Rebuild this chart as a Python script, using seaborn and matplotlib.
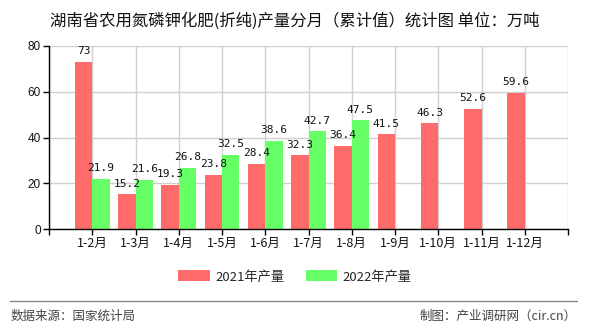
import matplotlib
matplotlib.use("Agg")
import matplotlib.pyplot as plt
from matplotlib.lines import Line2D
import seaborn as sns
import pandas as pd
import numpy as np

title = "湖南省农用氮磷钾化肥(折纯)产量分月（累计值）统计图 单位：万吨"
categories = ["1-2月", "1-3月", "1-4月", "1-5月", "1-6月", "1-7月", "1-8月",
              "1-9月", "1-10月", "1-11月", "1-12月"]
series_names = ["2021年产量", "2022年产量"]
values_2021 = [73, 15.2, 19.3, 23.8, 28.4, 32.3, 36.4, 41.5, 46.3, 52.6, 59.6]
values_2022 = [21.9, 21.6, 26.8, 32.5, 38.6, 42.7, 47.5, None, None, None, None]
y_ticks = [0, 20, 40, 60, 80]
source_text = "数据来源：国家统计局"
credit_text = "制图：产业调研网（cir.cn）"

colors = ["#FF6B6B", "#66FF66"]

sns.set_theme(style="white")
plt.rcParams['font.family'] = ['Noto Sans CJK SC', 'DejaVu Sans']

rows = []
for c, a, b in zip(categories, values_2021, values_2022):
    rows.append({"month": c, "series": series_names[0], "value": a})
    rows.append({"month": c, "series": series_names[1], "value": np.nan if b is None else b})
df = pd.DataFrame(rows)

fig = plt.figure(figsize=(5.9, 3.3), dpi=100)
ax = fig.add_axes([49/590, 1-229/330, (568-49)/590, (229-46)/330])

sns.barplot(data=df, x="month", y="value", hue="series", order=categories,
            hue_order=series_names, palette=colors, width=0.8, saturation=1,
            ax=ax, errorbar=None, legend=True, linewidth=0, edgecolor="none")

n = len(categories)
ax.set_xlim(-1, n)
ax.set_ylim(0, 80)
ax.set_xticks(range(-1, n + 1))
ax.set_xticklabels([""] + categories + [""], fontsize=9, color="#111111")
ax.set_yticks(y_ticks)
ax.set_yticklabels([str(v) for v in y_ticks], fontsize=8.5, color="#111111",
                   family=['Liberation Sans', 'DejaVu Sans'])
ax.set_xlabel("")
ax.set_ylabel("")
ax.grid(True, color="#D0D0D0", linewidth=1.0)
ax.set_axisbelow(True)
for s in ["top", "right"]:
    ax.spines[s].set_visible(False)
for s in ["left", "bottom"]:
    ax.spines[s].set_color("black")
    ax.spines[s].set_linewidth(1.0)
ax.tick_params(axis="both", which="both", direction="out", length=4, width=1,
               color="black", bottom=True, left=True, pad=2)

for cont, vals in zip(ax.containers, [values_2021, values_2022]):
    for bar, v in zip(cont, vals):
        if bar is None or v is None:
            continue
        ax.annotate(f"{v:g}", (bar.get_x() + bar.get_width() / 2, bar.get_height()),
                    xytext=(0, 4), textcoords="offset points", ha="center", va="bottom",
                    fontsize=8, family=['DejaVu Sans Mono'], color="#111111")

leg = ax.get_legend()
handles = leg.legend_handles
leg.remove()
fig.legend(handles, series_names, loc="center", bbox_to_anchor=(0.5, 1-277/330),
           ncol=2, frameon=False, fontsize=9.5, handlelength=2.4, handleheight=0.9,
           columnspacing=1.6, handletextpad=0.4)

fig.text(0.5, 1-21/330, title, ha="center", va="center", fontsize=11.8, color="#111111")
fig.add_artist(Line2D([10/590, 577/590], [1-301/330, 1-301/330],
                      transform=fig.transFigure, color="#888888", linewidth=1))
fig.text(11/590, 1-316/330, source_text, ha="left", va="center", fontsize=9, color="#444444")
fig.text(577/590, 1-316/330, credit_text, ha="right", va="center", fontsize=9, color="#444444")

fig.savefig("out.png", dpi=100)
